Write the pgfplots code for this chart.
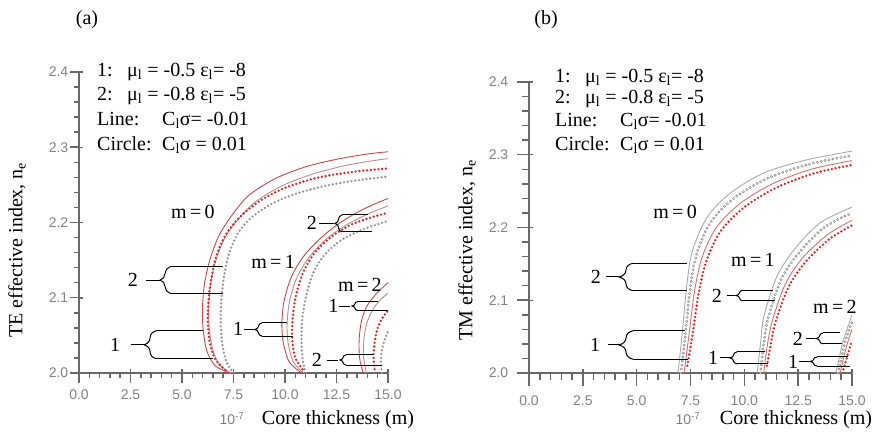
\documentclass[border=0pt]{standalone}
\usepackage{pgfplots}
\pgfplotsset{compat=1.18}
\usepackage{fontspec}
\setmainfont{Liberation Serif}
\newfontfamily\tickfont{Liberation Sans}
\usetikzlibrary{decorations.pathreplacing}

\definecolor{redline}{RGB}{205,70,75}
\definecolor{grayline}{RGB}{185,140,145}
\definecolor{reddot}{RGB}{225,35,35}
\definecolor{graydot}{RGB}{150,150,150}
\definecolor{axgray}{RGB}{130,130,130}
\definecolor{tickgray}{RGB}{105,105,105}
\definecolor{bgrayline}{RGB}{170,170,170}
\definecolor{bredline}{RGB}{220,110,110}
\definecolor{bgraydot}{RGB}{135,135,135}

\newcommand{\annfont}{\fontsize{20}{24}\selectfont}
\newcommand{\tfont}{\tickfont\fontsize{14}{14}\selectfont}

\pgfplotsset{
  mystyle/.style={
    clip=false,
    scale only axis,
    axis x line*=bottom, axis y line*=left,
    axis line style={tickgray, line width=1.5pt},
    xmin=0, xmax=15, ymin=2, ymax=2.4,
    xtick={0,2.5,5,7.5,10,12.5,15}, ytick={2.0,2.1,2.2,2.3,2.4},
    xticklabels={}, yticklabels={},
    tick style={draw=tickgray, line width=1.5pt},
  },
  rl/.style={redline, line width=0.9pt, smooth, no markers},
  gl/.style={grayline, line width=0.9pt, smooth, no markers},
  rd/.style={reddot, line width=2.6pt, smooth, no markers, dash pattern=on 0pt off 3.8pt, line cap=round},
  gd/.style={graydot, line width=2.6pt, smooth, no markers, dash pattern=on 0pt off 3.8pt, line cap=round},
  brl/.style={bredline, line width=0.9pt, smooth, no markers},
  bgl/.style={bgrayline, line width=0.9pt, smooth, no markers},
  brd/.style={reddot, line width=2.6pt, smooth, no markers, dash pattern=on 0pt off 3.8pt, line cap=round},
  bgd/.style={bgraydot, line width=3pt, smooth, no markers, dash pattern=on 0pt off 4pt, line cap=round,
      postaction={draw, white, line width=1.2pt, dash pattern=on 0pt off 4pt, line cap=round}},
}

% #1 label, #2 label x, #3 mid y, #4 dash start x, #5 dash end x (tip), #6 brace x, #7 y top, #8 y bottom, #9 end x top
\newcommand{\bracket}[9]{%
  \node[font=\annfont] at (axis cs:#2,#3) {#1};
  \draw[line width=1pt] (axis cs:#4,#3) -- (axis cs:#5,#3);
  \draw[line width=1pt] (axis cs:#6,#7) -- (axis cs:#9,#7);
}
% #1 brace x, #2 y top, #3 y bottom, #4 end x bottom, #5 amplitude
\newcommand{\bracketb}[5]{%
  \draw[line width=1pt, decorate, decoration={brace, amplitude=#5}] (axis cs:#1,#3) -- (axis cs:#1,#2);
  \draw[line width=1pt] (axis cs:#1,#3) -- (axis cs:#4,#3);
}

\begin{document}
\begin{tikzpicture}
\useasboundingbox (0,0) rectangle (880pt,439pt);

% ---------------- panel (a) ----------------
\begin{axis}[mystyle, at={(79pt,66pt)}, anchor=south west, width=309pt, height=301pt]
% m = 0
\addplot[rl] coordinates {(7.3,2.0) (6.6,2.01) (6.2,2.03) (6.02,2.06) (6.0,2.09) (6.1,2.12) (6.35,2.15) (6.75,2.18) (7.3,2.205) (8.2,2.235) (9.5,2.258) (11.0,2.274) (12.5,2.284) (14,2.291) (15,2.294)};
\addplot[gl] coordinates {(7.4,2.0) (6.85,2.01) (6.5,2.03) (6.32,2.06) (6.3,2.09) (6.4,2.12) (6.65,2.15) (7.05,2.178) (7.6,2.2) (8.5,2.226) (9.8,2.248) (11.3,2.264) (12.8,2.275) (14,2.281) (15,2.285)};
\addplot[rd] coordinates {(7.1,2.004) (6.62,2.018) (6.35,2.04) (6.25,2.07) (6.3,2.1) (6.45,2.13) (6.72,2.16) (7.15,2.185) (7.8,2.207) (8.8,2.229) (10.0,2.246) (11.5,2.259) (13.2,2.267) (15,2.272)};
\addplot[gd] coordinates {(7.5,2.0) (7.15,2.015) (6.95,2.04) (6.88,2.07) (6.92,2.1) (7.05,2.13) (7.3,2.16) (7.7,2.185) (8.3,2.205) (9.3,2.224) (10.5,2.238) (12,2.249) (13.5,2.256) (15,2.261)};
% m = 1
\addplot[rl] coordinates {(10.8,2.0) (10.2,2.015) (9.92,2.04) (9.85,2.065) (9.95,2.095) (10.3,2.127) (10.9,2.155) (11.8,2.181) (12.8,2.202) (13.9,2.219) (15,2.232)};
\addplot[gl] coordinates {(10.9,2.0) (10.4,2.015) (10.15,2.04) (10.1,2.065) (10.22,2.095) (10.55,2.125) (11.15,2.153) (12.0,2.178) (13.0,2.197) (14.0,2.211) (15,2.222)};
\addplot[rd] coordinates {(10.85,2.005) (10.5,2.02) (10.35,2.045) (10.38,2.075) (10.55,2.105) (10.9,2.135) (11.45,2.16) (12.25,2.181) (13.2,2.197) (14.1,2.206) (15,2.213)};
\addplot[gd] coordinates {(11.0,2.0) (10.85,2.02) (10.8,2.045) (10.85,2.075) (11.05,2.105) (11.4,2.135) (11.95,2.158) (12.7,2.176) (13.7,2.19) (15,2.202)};
% m = 2
\addplot[rl] coordinates {(13.8,2.0) (13.62,2.02) (13.6,2.045) (13.72,2.07) (14.0,2.09) (14.45,2.106) (15,2.12)};
\addplot[gl] coordinates {(13.95,2.0) (13.82,2.02) (13.83,2.045) (13.98,2.067) (14.28,2.085) (14.62,2.097) (15,2.106)};
\addplot[rd] coordinates {(14.35,2.005) (14.3,2.02) (14.35,2.04) (14.5,2.06) (14.75,2.074) (15,2.083)};
\addplot[gd] coordinates {(14.7,2.0) (14.65,2.015) (14.7,2.03) (14.85,2.045) (15,2.055)};

\node[font=\annfont] at (axis cs:5.53,2.214) {m\,=\,0};
\node[font=\annfont] at (axis cs:9.42,2.148) {m\,=\,1};
\node[font=\annfont] at (axis cs:13.64,2.117) {m\,=\,2};

\bracket{2}{2.62}{2.1235}{3.25}{3.93}{4.42}{2.141}{2.106}{6.99}
\bracketb{4.42}{2.141}{2.106}{6.99}{10pt}
\bracket{1}{1.75}{2.0375}{2.52}{3.16}{3.74}{2.056}{2.019}{6.02}
\bracketb{3.74}{2.056}{2.019}{6.50}{12pt}
\bracket{1}{7.72}{2.058}{8.01}{8.50}{8.88}{2.0665}{2.049}{10.10}
\bracketb{8.88}{2.0665}{2.049}{10.39}{7pt}
\bracket{2}{11.31}{2.199}{11.65}{12.38}{12.77}{2.210}{2.1875}{14.03}
\bracketb{12.77}{2.210}{2.1875}{14.22}{7pt}
\bracket{1}{12.35}{2.089}{12.62}{13.16}{13.54}{2.095}{2.083}{14.51}
\bracketb{13.54}{2.095}{2.083}{15.0}{6pt}
\bracket{2}{11.55}{2.017}{12.04}{12.57}{12.96}{2.024}{2.0106}{14.27}
\bracketb{12.96}{2.024}{2.0106}{14.71}{6pt}
\end{axis}

% ---------------- panel (b) ----------------
\begin{axis}[mystyle, at={(529pt,66pt)}, anchor=south west, width=323pt, height=291pt]
% m = 0
\addplot[bgl] coordinates {(6.92,2.0) (7.1,2.05) (7.34,2.124) (7.6,2.169) (8.27,2.214) (9.34,2.247) (10.9,2.275) (12.9,2.293) (15,2.305)};
\addplot[bgd] coordinates {(7.05,2.0) (7.25,2.05) (7.5,2.12) (7.8,2.165) (8.45,2.208) (9.55,2.241) (11.1,2.268) (13.0,2.287) (15,2.299)};
\addplot[brl] coordinates {(7.2,2.0) (7.42,2.05) (7.7,2.115) (8.05,2.16) (8.7,2.2) (9.8,2.233) (11.3,2.26) (13.1,2.28) (15,2.292)};
\addplot[brd] coordinates {(7.35,2.01) (7.58,2.05) (7.88,2.11) (8.25,2.155) (8.9,2.195) (10.0,2.228) (11.5,2.255) (13.3,2.275) (15,2.286)};
% m = 1
\addplot[bgl] coordinates {(10.6,2.0) (10.75,2.04) (10.9,2.077) (11.5,2.132) (12.3,2.169) (13.5,2.206) (15,2.228)};
\addplot[bgd] coordinates {(10.75,2.0) (10.9,2.04) (11.1,2.075) (11.7,2.128) (12.5,2.164) (13.7,2.2) (15,2.22)};
\addplot[brl] coordinates {(10.9,2.0) (11.05,2.035) (11.3,2.072) (11.9,2.122) (12.7,2.158) (13.85,2.19) (15,2.21)};
\addplot[brd] coordinates {(11.05,2.01) (11.2,2.035) (11.45,2.07) (12.05,2.118) (12.85,2.153) (13.95,2.184) (15,2.203)};
% m = 2
\addplot[bgl] coordinates {(14.25,2.0) (14.4,2.02) (14.6,2.045) (15,2.08)};
\addplot[bgd] coordinates {(14.35,2.0) (14.5,2.02) (14.7,2.045) (15,2.07)};
\addplot[brl] coordinates {(14.45,2.0) (14.6,2.02) (14.8,2.042) (15,2.06)};
\addplot[brd] coordinates {(14.6,2.005) (14.75,2.02) (14.9,2.035) (15,2.045)};

\node[font=\annfont] at (axis cs:6.78,2.221) {m\,=\,0};
\node[font=\annfont] at (axis cs:10.40,2.155) {m\,=\,1};
\node[font=\annfont] at (axis cs:14.21,2.091) {m\,=\,2};

\bracket{2}{3.11}{2.132}{3.58}{4.18}{4.83}{2.151}{2.113}{7.34}
\bracketb{4.83}{2.151}{2.113}{7.34}{14pt}
\bracket{1}{3.07}{2.0385}{3.67}{4.18}{4.83}{2.058}{2.019}{7.25}
\bracketb{4.83}{2.058}{2.019}{7.39}{14pt}
\bracket{2}{8.73}{2.1065}{9.20}{9.57}{9.94}{2.114}{2.099}{11.33}
\bracketb{9.94}{2.114}{2.099}{11.43}{7pt}
\bracket{1}{8.55}{2.0207}{8.87}{9.34}{9.66}{2.029}{2.0124}{10.96}
\bracketb{9.66}{2.029}{2.0124}{11.10}{7pt}
\bracket{2}{12.49}{2.0475}{12.87}{13.28}{13.66}{2.055}{2.040}{14.44}
\bracketb{13.66}{2.055}{2.040}{14.54}{7pt}
\bracket{1}{12.26}{2.0158}{12.54}{13.0}{13.38}{2.022}{2.0096}{14.82}
\bracketb{13.38}{2.022}{2.0096}{14.91}{7pt}
\end{axis}

% ---------------- axis ticks and tick labels ----------------
\begin{scope}[draw=tickgray, line width=1.5pt]
% panel (a)
\foreach \i in {0,...,30} {\draw[tickgray, line width=1.5pt] ({79pt+\i*10.3pt},66pt) -- ++(0pt,-5pt);}
\foreach \i/\lab in {0/0.0,1/2.5,2/5.0,3/7.5,4/10.0,5/12.5,6/15.0} {
  \draw[tickgray, line width=1.5pt] ({79pt+\i*51.5pt},66pt) -- ++(0pt,-10pt);
  \node[font=\tfont, text=axgray] at ({79pt+\i*51.5pt},44pt) {\lab};}
\foreach \j in {0,...,20} {\draw[tickgray, line width=1.5pt] (79pt,{66pt+\j*15.05pt}) -- ++(-5pt,0pt);}
\foreach \j/\lab in {0/2.0,1/2.1,2/2.2,3/2.3,4/2.4} {
  \draw[tickgray, line width=1.5pt] (79pt,{66pt+\j*75.25pt}) -- ++(-9pt,0pt);
  \node[font=\tfont, text=axgray, anchor=east, inner sep=0pt] at (69pt,{66pt+\j*75.25pt}) {\lab};}
% panel (b)
\foreach \i in {0,...,30} {\draw[tickgray, line width=1.5pt] ({529pt+\i*10.7667pt},66pt) -- ++(0pt,-7pt);}
\foreach \i/\lab in {0/0.0,1/2.5,2/5.0,3/7.5,4/10.0,5/12.5,6/15.0} {
  \draw[tickgray, line width=1.5pt] ({529pt+\i*53.833pt},66pt) -- ++(0pt,-13pt);
  \node[font=\tfont, text=axgray] at ({529pt+\i*53.833pt},38pt) {\lab};}
\foreach \j in {0,...,20} {\draw[tickgray, line width=1.5pt] (529pt,{66pt+\j*14.55pt}) -- ++(-7pt,0pt);}
\foreach \j/\lab in {0/2.0,1/2.1,2/2.2,3/2.3,4/2.4} {
  \draw[tickgray, line width=1.5pt] (529pt,{66pt+\j*72.75pt}) -- ++(-12pt,0pt);
  \node[font=\tfont, text=axgray, anchor=east, inner sep=0pt] at (509pt,{66pt+\j*72.75pt}) {\lab};}
\end{scope}

% ---------------- texts ----------------
\node[font=\annfont] at (87pt,419pt) {(a)};
\node[font=\annfont] at (546pt,419pt) {(b)};

\begin{scope}[every node/.style={font=\annfont, anchor=west, inner sep=0pt}]
\node at (97pt,367pt) {\makebox[30pt][l]{1:}μ\textsubscript{l} = -0.5 ε\textsubscript{l}= -8};
\node at (97pt,343pt) {\makebox[30pt][l]{2:}μ\textsubscript{l} = -0.8 ε\textsubscript{l}= -5};
\node at (97pt,319pt) {\makebox[65pt][l]{Line:}C\textsubscript{l}σ= -0.01};
\node at (97pt,294pt) {\makebox[65pt][l]{Circle:}C\textsubscript{l}σ = 0.01};

\node at (555pt,361pt) {\makebox[30pt][l]{1:}μ\textsubscript{l} = -0.5 ε\textsubscript{l}= -8};
\node at (555pt,340pt) {\makebox[30pt][l]{2:}μ\textsubscript{l} = -0.8 ε\textsubscript{l}= -5};
\node at (555pt,318pt) {\makebox[65pt][l]{Line:}C\textsubscript{l}σ= -0.01};
\node at (555pt,294pt) {\makebox[65pt][l]{Circle:}C\textsubscript{l}σ = 0.01};
\end{scope}

\node[font=\tfont, text=axgray] at (232pt,20pt) {10\textsuperscript{-7}};
\node[font=\annfont] at (338pt,19pt) {Core thickness (m)};
\node[font=\tfont, text=axgray] at (688pt,20pt) {10\textsuperscript{-7}};
\node[font=\annfont] at (796pt,19pt) {Core thickness (m)};

\node[font=\annfont, rotate=90] at (17pt,189pt) {TE effective index, n\textsubscript{e}};
\node[font=\annfont, rotate=90] at (467pt,189pt) {TM effective index, n\textsubscript{e}};
\end{tikzpicture}
\end{document}
